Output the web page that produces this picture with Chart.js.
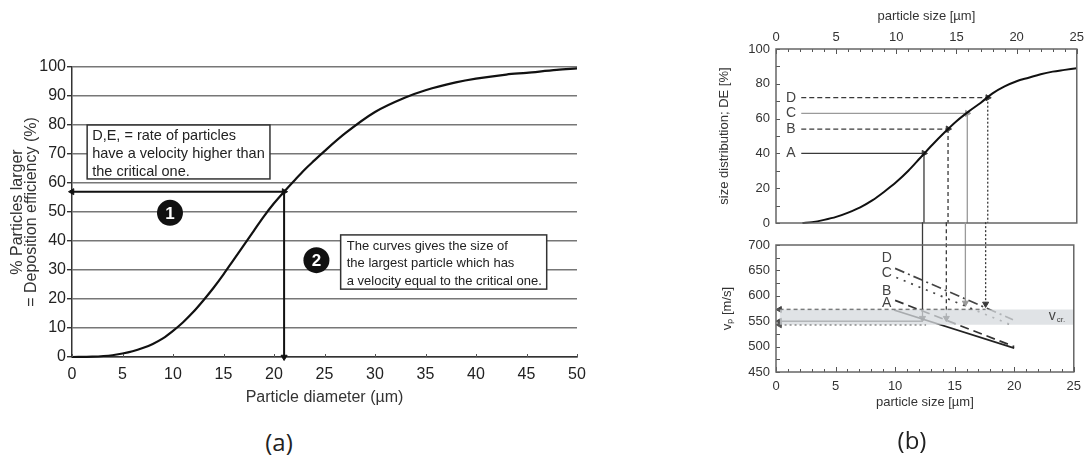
<!DOCTYPE html>
<html>
<head>
<meta charset="utf-8">
<script src="https://cdn.jsdelivr.net/npm/chart.js@4.4.1/dist/chart.umd.min.js"></script>
<style>
html, body { margin: 0; padding: 0; background: #fff; }
body { width: 1088px; height: 458px; position: relative; overflow: hidden; }
canvas { position: absolute; }
#chartA { left: 0; top: 0; }
#chartB1 { left: 700px; top: 0; }
#chartB2 { left: 700px; top: 215px; }
.cap { position: absolute; width: 80px; text-align: center; font-family: "Open Sans", "Noto Sans", sans-serif; font-size: 24px; color: #222; line-height: 30px; }
</style>
</head>
<body>
<canvas id="chartA" width="640" height="420" style="width:640px;height:420px"></canvas>
<canvas id="chartB1" width="388" height="245" style="width:388px;height:245px"></canvas>
<canvas id="chartB2" width="388" height="243" style="width:388px;height:243px"></canvas>
<div class="cap" style="left:239px;top:427px">(a)</div>
<div class="cap" style="left:872px;top:425px">(b)</div>
<script>
// ---- panel (a): deposition efficiency vs particle diameter ----
const diamA = [0, 2, 4, 5, 6, 7, 8, 9, 10, 11, 12, 13, 14, 15, 16, 17, 18, 19, 20, 21, 22, 23, 24, 25, 27, 30, 33, 35, 38, 40, 43, 45, 48, 50];
const effA = [0, 0.1, 0.6, 1.2, 2, 3.1, 4.5, 6.4, 9, 12, 15.5, 19.5, 23.8, 28.5, 33.5, 38.5, 43.5, 48.5, 53, 57, 60.8, 64.5, 67.8, 71, 77, 84.5, 89.5, 92, 94.7, 96, 97.4, 98, 99, 99.5];
const critDiamA = 21;
const critEffA = 57;

// ---- panel (b) top: size distribution ----
const sizeB = [2.2, 3, 4, 5, 6, 7, 8, 9, 10, 11, 12, 13, 14, 15, 16, 17, 18, 19, 20, 21, 22, 23, 24, 25];
const distB = [0, 0.5, 1.8, 3.5, 6, 9, 13, 18, 23.5, 30, 37.5, 45, 52, 58.5, 64, 69, 74.5, 78.5, 81.5, 83.5, 85.5, 87, 88, 89];
const caseNames = ['A', 'B', 'C', 'D'];
const caseSize = [12.3, 14.3, 15.9, 17.6];
const caseDE = [40, 54, 63, 72];

// ---- panel (b) bottom: particle velocity ----
const velStartX = [9.9, 10.0, 10.1, 10.0];
const velStartY = [572, 591, 636, 654];
const velEndX = [20, 20, 19.8, 19.9];
const velEndY = [497, 500, 542, 553];
const caseHitV = [556, 556, 586, 584];
const vcrBand = [543, 573];
const critLevels = [573, 550, 543];
const critReach = [17.6, 12.3, 12.6];

Chart.defaults.font.family = '"Liberation Sans", Arial, sans-serif';
Chart.defaults.color = '#333';

const caseStyle = {
    A: { color: '#3a3a3a', dash: [], vdash: [], vel: [] , velColor: '#222' },
    B: { color: '#3a3a3a', dash: [5, 3], vdash: [4, 3], vel: [9, 5], velColor: '#333' },
    C: { color: '#9a9a9a', dash: [], vdash: [], vel: [2, 6], velColor: '#444' },
    D: { color: '#3a3a3a', dash: [5, 3], vdash: [2, 2], vel: [10, 4, 2, 4], velColor: '#444' }
};
const critStyle = [
    { color: '#444', dash: [4, 3] },
    { color: '#444', dash: [] },
    { color: '#555', dash: [2, 3] }
];

// line piece with optional arrow heads (angle in degrees, null = none)
function seg(points, color, width, dash, arrows) {
    return {
        data: points,
        borderColor: color,
        borderWidth: width,
        borderDash: dash,
        pointStyle: 'triangle',
        pointRadius: arrows.map(a => a == null ? 0 : 3.5),
        pointRotation: arrows.map(a => a || 0),
        pointBackgroundColor: color,
        pointBorderColor: color,
        pointBorderWidth: 1,
        clip: false,
        tension: 0
    };
}

// text boxes, labels and numbered badges in data units
function notesPlugin(cfg) {
    return {
        id: 'notes',
        afterDatasetsDraw(chart) {
            const ctx = chart.ctx, xs = chart.scales.x, ys = chart.scales.y;
            const px = v => xs.getPixelForValue(v), py = v => ys.getPixelForValue(v);
            ctx.save();
            (cfg.boxes || []).forEach(b => {
                const x0 = px(b.x0), x1 = px(b.x1), y0 = py(b.y0), y1 = py(b.y1);
                ctx.fillStyle = '#fff';
                ctx.fillRect(x0, y0, x1 - x0, y1 - y0);
                ctx.strokeStyle = '#333';
                ctx.lineWidth = 1.5;
                ctx.strokeRect(x0, y0, x1 - x0, y1 - y0);
            });
            (cfg.texts || []).forEach(t => {
                ctx.font = t.font;
                ctx.fillStyle = t.color || '#222';
                ctx.textAlign = t.align || 'left';
                ctx.textBaseline = 'middle';
                ctx.fillText(t.text, px(t.x), py(t.y));
                if (t.sub) {
                    const w = ctx.measureText(t.text).width;
                    ctx.font = t.subFont;
                    ctx.fillText(t.sub, px(t.x) + w + 1, py(t.y) + 4);
                }
            });
            (cfg.badges || []).forEach(b => {
                ctx.beginPath();
                ctx.arc(px(b.x), py(b.y), 13, 0, Math.PI * 2);
                ctx.fillStyle = '#111';
                ctx.fill();
                ctx.fillStyle = '#fff';
                ctx.font = 'bold 17px "Liberation Sans", Arial, sans-serif';
                ctx.textAlign = 'center';
                ctx.textBaseline = 'middle';
                ctx.fillText(b.text, px(b.x), py(b.y) + 1);
            });
            ctx.restore();
        }
    };
}

// small tick marks pointing into the plot, plus optional full frame
function ticksPlugin(marks, frame) {
    return {
        id: 'innerTicks',
        afterDraw(chart) {
            const ctx = chart.ctx, a = chart.chartArea;
            ctx.save();
            ctx.strokeStyle = '#555';
            ctx.lineWidth = 1;
            marks.forEach(m => {
                const sc = chart.scales[m.axis];
                for (let v = sc.min; v <= sc.max + 1e-9; v += m.step) {
                    const major = m.majorStep && Math.abs(v / m.majorStep - Math.round(v / m.majorStep)) < 1e-6;
                    const len = major ? m.majorLen : m.len;
                    const p = Math.round(sc.getPixelForValue(v)) + 0.5;
                    ctx.beginPath();
                    if (m.side === 'top') { ctx.moveTo(p, a.top); ctx.lineTo(p, a.top + len); }
                    else if (m.side === 'bottom') { ctx.moveTo(p, a.bottom); ctx.lineTo(p, a.bottom - len); }
                    else { ctx.moveTo(a.left, p); ctx.lineTo(a.left + len, p); }
                    ctx.stroke();
                }
            });
            if (frame) {
                ctx.strokeStyle = '#666';
                ctx.lineWidth = 1.5;
                ctx.strokeRect(a.left, a.top, a.right - a.left, a.bottom - a.top);
            }
            ctx.restore();
        }
    };
}

const pts = (xs, ys) => xs.map((x, i) => ({ x: x, y: ys[i] }));
const base = { responsive: false, animation: false, events: [], plugins: { legend: { display: false }, tooltip: { enabled: false } } };

// ---------- panel (a) ----------
new Chart(document.getElementById('chartA').getContext('2d'), {
    type: 'line',
    data: {
        datasets: [
            Object.assign(seg(pts(diamA, effA), '#111', 2.2, [], diamA.map(() => null)), { cubicInterpolationMode: 'monotone' }),
            seg([{ x: 0, y: critEffA }, { x: critDiamA, y: critEffA }], '#111', 2, [], [270, 90]),
            seg([{ x: critDiamA, y: critEffA }, { x: critDiamA, y: 0 }], '#111', 2, [], [null, 180])
        ]
    },
    options: Object.assign({}, base, {
        layout: { padding: { left: 11, top: 67, right: 63, bottom: 13 } },
        scales: {
            x: {
                type: 'linear', min: 0, max: 50,
                ticks: { stepSize: 5, padding: 8, font: { size: 16 }, color: '#222' },
                grid: { display: true, drawOnChartArea: false, drawTicks: false },
                border: { display: true, color: '#333', width: 1.5 },
                title: { display: true, text: 'Particle diameter (µm)', font: { size: 16 }, color: '#333', padding: 0 },
                afterFit(s) { s.height = 50; }
            },
            y: {
                min: 0, max: 100,
                ticks: { stepSize: 10, padding: 1, font: { size: 16 }, color: '#222' },
                grid: { color: '#777', lineWidth: 1.4, drawTicks: true, tickLength: 5, tickColor: '#333' },
                border: { display: true, color: '#333', width: 1.5 },
                title: { display: true, text: ['% Particles larger', '= Deposition efficiency (%)'], font: { size: 16, lineHeight: '14px' }, color: '#333', padding: 0 },
                afterFit(s) { s.width = 61; }
            }
        }
    }),
    plugins: [
        notesPlugin({
            boxes: [{ x0: 1.5, x1: 19.6, y0: 80, y1: 61.4 }, { x0: 26.6, x1: 47, y0: 42.1, y1: 23.4 }],
            texts: [
                { text: 'D,E, = rate of particles', x: 2, y: 76.2, font: '14.5px "Liberation Sans", Arial, sans-serif' },
                { text: 'have a velocity higher than', x: 2, y: 70, font: '14.5px "Liberation Sans", Arial, sans-serif' },
                { text: 'the critical one.', x: 2, y: 63.8, font: '14.5px "Liberation Sans", Arial, sans-serif' },
                { text: 'The curves gives the size of', x: 27.2, y: 38.3, font: '13px "Liberation Sans", Arial, sans-serif' },
                { text: 'the largest particle which has', x: 27.2, y: 32.4, font: '13px "Liberation Sans", Arial, sans-serif' },
                { text: 'a velocity equal to the critical one.', x: 27.2, y: 26.2, font: '13px "Liberation Sans", Arial, sans-serif' }
            ],
            badges: [{ x: 9.7, y: 49.7, text: '1' }, { x: 24.2, y: 33.4, text: '2' }]
        }),
        ticksPlugin([{ axis: 'x', side: 'bottom', step: 5, len: 3 }], false)
    ]
});

// ---------- panel (b) top ----------
const topSets = [Object.assign(seg(pts(sizeB, distB), '#111', 2, [], sizeB.map(() => null)), { cubicInterpolationMode: 'monotone' })];
caseNames.forEach((n, i) => {
    const st = caseStyle[n];
    topSets.push(seg([{ x: 2.1, y: caseDE[i] }, { x: caseSize[i], y: caseDE[i] }], st.color, 1.3, st.dash, [null, 90]));
    topSets.push(seg([{ x: caseSize[i], y: caseDE[i] }, { x: caseSize[i], y: 0 }], st.color, 1.3, st.vdash, [null, null]));
});

new Chart(document.getElementById('chartB1').getContext('2d'), {
    type: 'line',
    data: { datasets: topSets },
    options: Object.assign({}, base, {
        layout: { padding: { left: 17, top: 9, right: 10, bottom: 22 } },
        scales: {
            x: {
                type: 'linear', position: 'top', min: 0, max: 25,
                ticks: { stepSize: 5, padding: 4, font: { size: 13 }, color: '#333' },
                grid: { display: false, drawTicks: false },
                border: { display: false },
                title: { display: true, text: 'particle size [µm]', font: { size: 13 }, color: '#333', padding: 0 },
                afterFit(s) { s.height = 40; }
            },
            y: {
                min: 0, max: 100,
                ticks: { stepSize: 20, padding: 6, font: { size: 13 }, color: '#333' },
                grid: { display: false, drawTicks: false },
                border: { display: false },
                title: { display: true, text: 'size distribution; DE [%]', font: { size: 13 }, color: '#333', padding: 0 },
                afterFit(s) { s.width = 59; }
            }
        }
    }),
    plugins: [
        notesPlugin({
            texts: caseNames.map((n, i) => ({ text: n, x: 1.25, y: caseDE[i], align: 'center', color: '#444', font: '14px "Liberation Sans", Arial, sans-serif' }))
        }),
        ticksPlugin([
            { axis: 'x', side: 'top', step: 1, len: 3, majorStep: 5, majorLen: 5 },
            { axis: 'y', side: 'left', step: 10, len: 4 }
        ], true)
    ]
});

// ---------- panel (b) bottom ----------
const botSets = [{
    data: [{ x: 0.3, y: vcrBand[1] }, { x: 25, y: vcrBand[1] }],
    borderWidth: 0,
    borderColor: 'rgba(0,0,0,0)',
    backgroundColor: 'rgba(214,217,221,0.75)',
    fill: { value: vcrBand[0] },
    pointRadius: 0
}];
critLevels.forEach((v, i) => {
    botSets.push(seg([{ x: 0.3, y: v }, { x: critReach[i], y: v }], critStyle[i].color, 1.4, critStyle[i].dash, [270, null]));
});
caseNames.forEach((n, i) => {
    const st = caseStyle[n];
    botSets.push(seg([{ x: velStartX[i], y: velStartY[i] }, { x: velEndX[i], y: velEndY[i] }], st.velColor, 1.7, st.vel, [null, null]));
    botSets.push(seg([{ x: caseSize[i], y: 745 }, { x: caseSize[i], y: caseHitV[i] }], st.color, 1.3, st.vdash, [null, 180]));
});

new Chart(document.getElementById('chartB2').getContext('2d'), {
    type: 'line',
    data: { datasets: botSets },
    options: Object.assign({}, base, {
        layout: { padding: { left: 20, top: 30, right: 10, bottom: 48 } },
        scales: {
            x: {
                type: 'linear', min: 0, max: 25,
                ticks: { stepSize: 5, padding: 7, font: { size: 13 }, color: '#333' },
                grid: { display: false, drawTicks: false },
                border: { display: false },
                title: { display: true, text: 'particle size [µm]', font: { size: 13 }, color: '#333', padding: 0 },
                afterFit(s) { s.height = 38; }
            },
            y: {
                min: 450, max: 700,
                ticks: { stepSize: 50, padding: 6, font: { size: 13 }, color: '#333' },
                grid: { display: false, drawTicks: false },
                border: { display: false },
                title: { display: true, text: 'vₚ [m/s]', font: { size: 13 }, color: '#333', padding: 0 },
                afterFit(s) { s.width = 56; }
            }
        }
    }),
    plugins: [
        notesPlugin({
            texts: [
                { text: 'D', x: 9.3, y: 674, align: 'center', color: '#444', font: '14px "Liberation Sans", Arial, sans-serif' },
                { text: 'C', x: 9.3, y: 645, align: 'center', color: '#444', font: '14px "Liberation Sans", Arial, sans-serif' },
                { text: 'B', x: 9.3, y: 609, align: 'center', color: '#444', font: '14px "Liberation Sans", Arial, sans-serif' },
                { text: 'A', x: 9.3, y: 585, align: 'center', color: '#444', font: '14px "Liberation Sans", Arial, sans-serif' },
                { text: 'v', x: 22.9, y: 560, color: '#444', font: '14px "Liberation Sans", Arial, sans-serif', sub: 'cr.', subFont: '8px "Liberation Sans", Arial, sans-serif' }
            ]
        }),
        ticksPlugin([
            { axis: 'x', side: 'bottom', step: 1, len: 3, majorStep: 5, majorLen: 5 },
            { axis: 'y', side: 'left', step: 25, len: 4 }
        ], true)
    ]
});
</script>
</body>
</html>
